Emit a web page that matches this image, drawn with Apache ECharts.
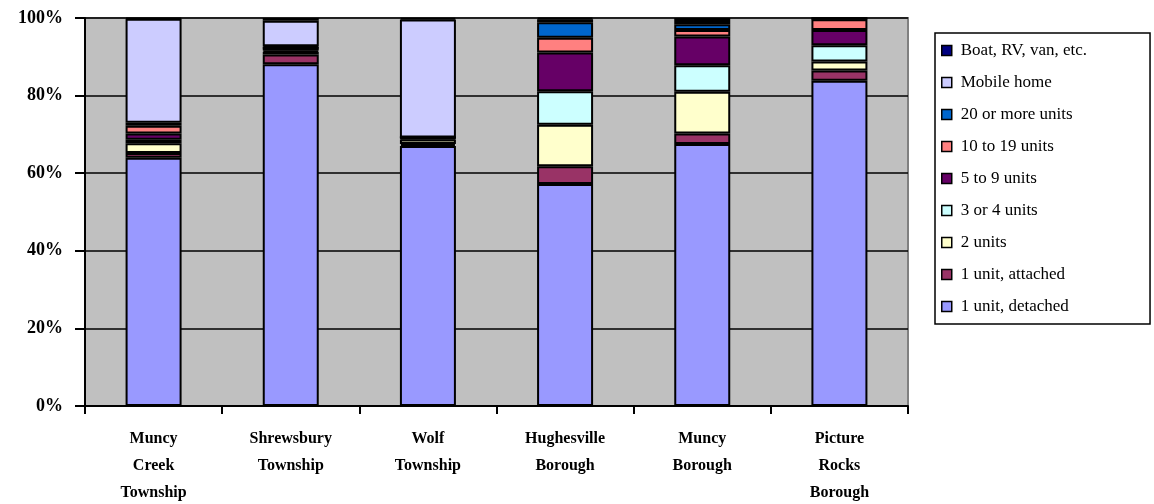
<!DOCTYPE html>
<html>
<head>
<meta charset="utf-8">
<script src="https://cdn.jsdelivr.net/npm/echarts@6/dist/echarts.min.js"></script>
<style>
  html, body { margin: 0; padding: 0; background: #fff; }
  #chart { width: 1154px; height: 504px; }
</style>
</head>
<body>
<div id="chart"></div>
<script>
const categories = ['Muncy\nCreek\nTownship', 'Shrewsbury\nTownship', 'Wolf\nTownship',
  'Hughesville\nBorough', 'Muncy\nBorough', 'Picture\nRocks\nBorough'];

// percent of housing units by type, bottom of stack first
const detached    = [64.0, 88.1, 67.0, 57.2, 67.5, 83.8];
const attached    = [1.2, 2.5, 0.5, 4.6, 2.7, 2.7];
const twoUnits    = [2.5, 0.7, 1.2, 10.7, 10.8, 2.3];
const threeFour   = [0.9, 0.3, 0.3, 8.6, 6.8, 4.2];
const fiveNine    = [1.6, 0.8, 0.2, 10.0, 7.4, 3.9];
const tenNineteen = [2.0, 0, 0, 3.8, 1.7, 2.8];
const twentyPlus  = [0.8, 0.3, 0, 4.0, 1.5, 0.2];
const mobile      = [26.8, 6.6, 30.4, 0.8, 0.8, 0];
const boat        = [0.2, 0.7, 0.4, 0.3, 0.8, 0.1];

const yTicks = [0, 20, 40, 60, 80, 100];

const seriesDefs = [
  ['1 unit, detached', detached, '#9999FF'],
  ['1 unit, attached', attached, '#993366'],
  ['2 units', twoUnits, '#FFFFCC'],
  ['3 or 4 units', threeFour, '#CCFFFF'],
  ['5 to 9 units', fiveNine, '#660066'],
  ['10 to 19 units', tenNineteen, '#FF8080'],
  ['20 or more units', twentyPlus, '#0066CC'],
  ['Mobile home', mobile, '#CCCCFF'],
  ['Boat, RV, van, etc.', boat, '#000080']
];

const font = '"Liberation Serif", "Times New Roman", serif';

const chart = echarts.init(document.getElementById('chart'));

chart.setOption({
  animation: false,
  grid: {
    left: 85, right: 246, top: 18, bottom: 98,
    outerBoundsMode: 'none',
    containLabel: false,
    show: true,
    backgroundColor: '#C0C0C0',
    borderColor: '#808080',
    borderWidth: 2
  },
  legend: {
    orient: 'vertical',
    left: 935,
    top: 33,
    data: seriesDefs.map(s => s[0]).reverse(),
    icon: 'rect',
    itemWidth: 10,
    itemHeight: 10,
    itemGap: 15,
    padding: [9, 63, 9, 6],
    borderColor: '#000',
    borderWidth: 1.5,
    backgroundColor: '#fff',
    textStyle: { fontFamily: font, fontSize: 17, color: '#000', padding: [0, 0, 0, 4] },
    itemStyle: { borderColor: '#000', borderWidth: 1.5 }
  },
  xAxis: {
    type: 'category',
    data: categories,
    axisLine: { lineStyle: { color: '#000', width: 2 } },
    axisTick: { show: true, length: 8, lineStyle: { color: '#000', width: 2 } },
    axisLabel: {
      margin: 19,
      fontFamily: font,
      fontWeight: 'bold',
      fontSize: 16,
      lineHeight: 27,
      color: '#000',
      interval: 0
    }
  },
  yAxis: {
    type: 'value',
    min: yTicks[0],
    max: yTicks[yTicks.length - 1],
    interval: 20,
    axisLine: { show: true, lineStyle: { color: '#000', width: 2 } },
    axisTick: { show: true, length: 10, lineStyle: { color: '#000', width: 2 } },
    splitLine: { lineStyle: { color: '#000', width: 1.5 } },
    axisLabel: {
      margin: 22,
      fontFamily: font,
      fontWeight: 'bold',
      fontSize: 18,
      color: '#000',
      formatter: '{value}%'
    }
  },
  series: seriesDefs.map(([name, vals, color]) => ({
    name: name,
    type: 'bar',
    stack: 'total',
    data: vals,
    barWidth: 56,
    itemStyle: { color: color, borderColor: '#000', borderWidth: 2 }
  }))
});
</script>
</body>
</html>
